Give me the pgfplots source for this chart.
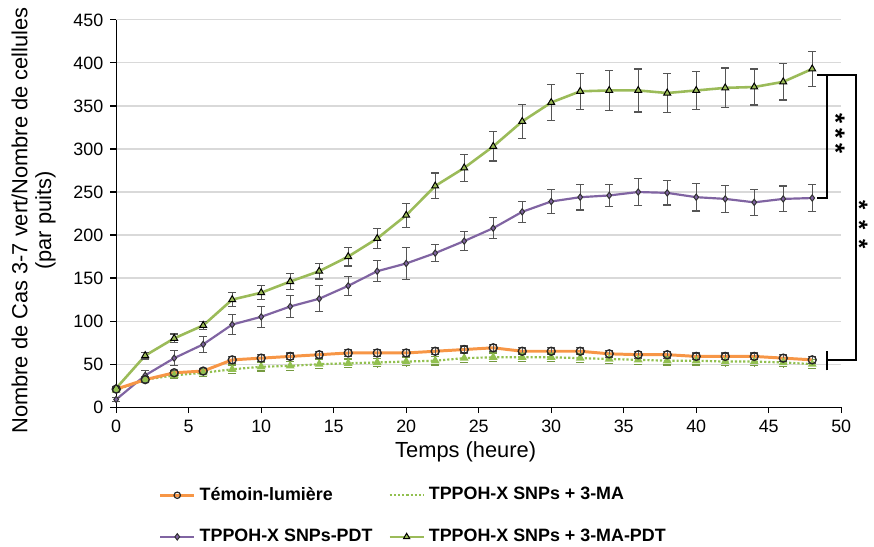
\documentclass[border=0pt]{standalone}
\usepackage{pgfplots}
\pgfplotsset{compat=1.18}
\usepackage{pgfplotstable}
\usepackage{fontspec}
\setmainfont{Liberation Sans}
\definecolor{cOrange}{HTML}{F79646}
\definecolor{cPurple}{HTML}{8064A2}
\definecolor{cGreen}{HTML}{9BBB59}
\definecolor{cDot}{HTML}{92C050}
\definecolor{cErr}{HTML}{555555}

\pgfplotstableread{
x y e
0 21 2
2 32 3
4 40 3
6 42 3
8 55 4
10 57 4
12 59 4
14 61 4
16 63 4
18 63 4
20 63 4
22 65 4
24 67 4
26 69 4
28 65 4
30 65 4
32 65 4
34 62 4
36 61 4
38 61 4
40 59 4
42 59 4
44 59 4
46 57 4
48 55 4
}\temoin

\pgfplotstableread{
x y e
0 20 2
2 32 3
4 37 4
6 40 4
8 44 5
10 47 5
12 48 5
14 50 5
16 51 5
18 52 5
20 53 5
22 54 5
24 57 5
26 58 5
28 58 5
30 58 5
32 57 5
34 56 5
36 55 5
38 54 5
40 54 5
42 53 5
44 53 5
46 52 5
48 50 5
}\mamix

\pgfplotstableread{
x y e
0 9 2
2 37 6
4 57 9
6 73 9
8 96 12
10 105 12
12 117 13
14 126 15
16 141 11
18 158 12
20 167 19
22 179 10
24 193 11
26 208 12
28 227 12
30 239 14
32 244 15
34 246 13
36 250 16
38 249 14
40 244 16
42 242 16
44 238 15
46 242 15
48 243 16
}\pdt

\pgfplotstableread{
x y e
0 22 2
2 60 4
4 80 5
6 95 5
8 125 8
10 133 8
12 146 9
14 158 9
16 175 11
18 196 12
20 223 14
22 257 15
24 278 16
26 303 17
28 332 20
30 354 21
32 367 21
34 368 23
36 368 25
38 365 23
40 368 22
42 371 23
44 372 21
46 378 21
48 393 20
}\mapdt

\begin{document}
\begin{tikzpicture}
\begin{axis}[
  scale only axis,
  width=365pt, height=195pt,
  xmin=0, xmax=50, ymin=0, ymax=450,
  xtick={0,5,...,50}, ytick={0,50,...,450},
  axis lines*=left,
  axis line style={black, line width=0.6pt},
  tick align=outside,
  major tick length=3pt,
  tick style={black, line width=0.6pt},
  ymajorgrids,
  grid style={gray!30, line width=0.6pt},
  /pgf/number format/assume math mode=true,
  ticklabel style={font=\fontsize{9}{10}\selectfont},
  xlabel={Temps (heure)},
  ylabel={Nombre de Cas 3-7 vert/Nombre de cellules\\(par puits)},
  xlabel style={font=\fontsize{11}{12}\selectfont, at={(axis description cs:0.482,-0.115)}, anchor=center},
  ylabel style={font=\fontsize{11}{12}\selectfont, align=center, at={(axis description cs:-0.114,0.482)}, anchor=center, rotate=0},
  clip=false,
  legend columns=2,
  legend cell align=left,
  legend style={draw=none, fill=none, font=\bfseries\fontsize{9}{10}\selectfont,
    at={(axis description cs:0.05,-0.185)}, anchor=north west,
    /tikz/every even column/.append style={column sep=6pt},
    row sep=9pt},
  error bars/y dir=both, error bars/y explicit,
  error bars/error bar style={cErr, line width=0.6pt},
  error bars/error mark options={rotate=90, mark size=2pt, cErr, line width=0.6pt},
]
\addplot[forget plot, cPurple, line width=1.1pt, mark=diamond*, mark size=1.6pt,
  mark options={fill=cPurple, draw=black!80, line width=0.5pt}]
  table[x=x, y=y, y error=e]{\pdt};
\addplot[forget plot, cGreen, line width=1.3pt, mark=triangle*, mark size=2pt,
  mark options={fill=cGreen, draw=black, line width=0.5pt}]
  table[x=x, y=y, y error=e]{\mapdt};
\addplot[forget plot, cDot, densely dotted, line width=1.1pt, mark=triangle*, mark size=1.5pt,
  mark options={fill=cDot, draw=cDot, solid},
  error bars/error bar style={cDot!80!black, line width=0.6pt},
  error bars/error mark options={rotate=90, mark size=2pt, cDot!80!black, line width=0.6pt}]
  table[x=x, y=y, y error=e]{\mamix};
\addplot[forget plot, cOrange, line width=1.5pt, mark=o, mark size=2pt,
  mark options={draw=black!85, line width=0.7pt, fill=cOrange}]
  table[x=x, y=y, y error=e]{\temoin};
\addlegendimage{cOrange, line width=1.5pt, mark=o, mark size=1.6pt, mark options={draw=black!85, line width=0.6pt}}
\addlegendentry{Témoin-lumière}
\addlegendimage{cDot, densely dotted, line width=1.1pt}
\addlegendentry{TPPOH-X SNPs + 3-MA}
\addlegendimage{cPurple, line width=1.1pt, mark=diamond*, mark size=1.6pt, mark options={fill=cPurple, draw=black!80, line width=0.5pt}}
\addlegendentry{TPPOH-X SNPs-PDT}
\addlegendimage{cGreen, line width=1.3pt, mark=triangle*, mark size=1.8pt, mark options={fill=cGreen, draw=black, line width=0.5pt}}
\addlegendentry{TPPOH-X SNPs + 3-MA-PDT}
% significance brackets
\draw[black, line width=1pt] (axis cs:48.36,386.5) -- (axis cs:49.04,386.5) -- (axis cs:49.04,243.5) -- (axis cs:48.36,243.5);
\draw[black, line width=1pt] (axis cs:49.04,386.5) -- (axis cs:51.03,386.5) -- (axis cs:51.03,55.4) -- (axis cs:49.04,55.4);
\draw[black, line width=1pt] (axis cs:49.04,42.7) -- (axis cs:49.04,65.8);
\node[font=\bfseries\fontsize{13}{13}\selectfont, inner sep=0pt, rotate=-90] at (axis cs:49.62,318) {*\hspace{2.4pt}*\hspace{2.4pt}*};
\node[font=\bfseries\fontsize{12}{12}\selectfont, inner sep=0pt, rotate=-90] at (axis cs:51.25,212) {*\hspace{5.3pt}*\hspace{5.3pt}*};
\end{axis}
\pgfresetboundingbox
\path[use as bounding box] (-58.5pt,-70pt) rectangle (381.5pt,205pt);
\end{tikzpicture}
\end{document}
